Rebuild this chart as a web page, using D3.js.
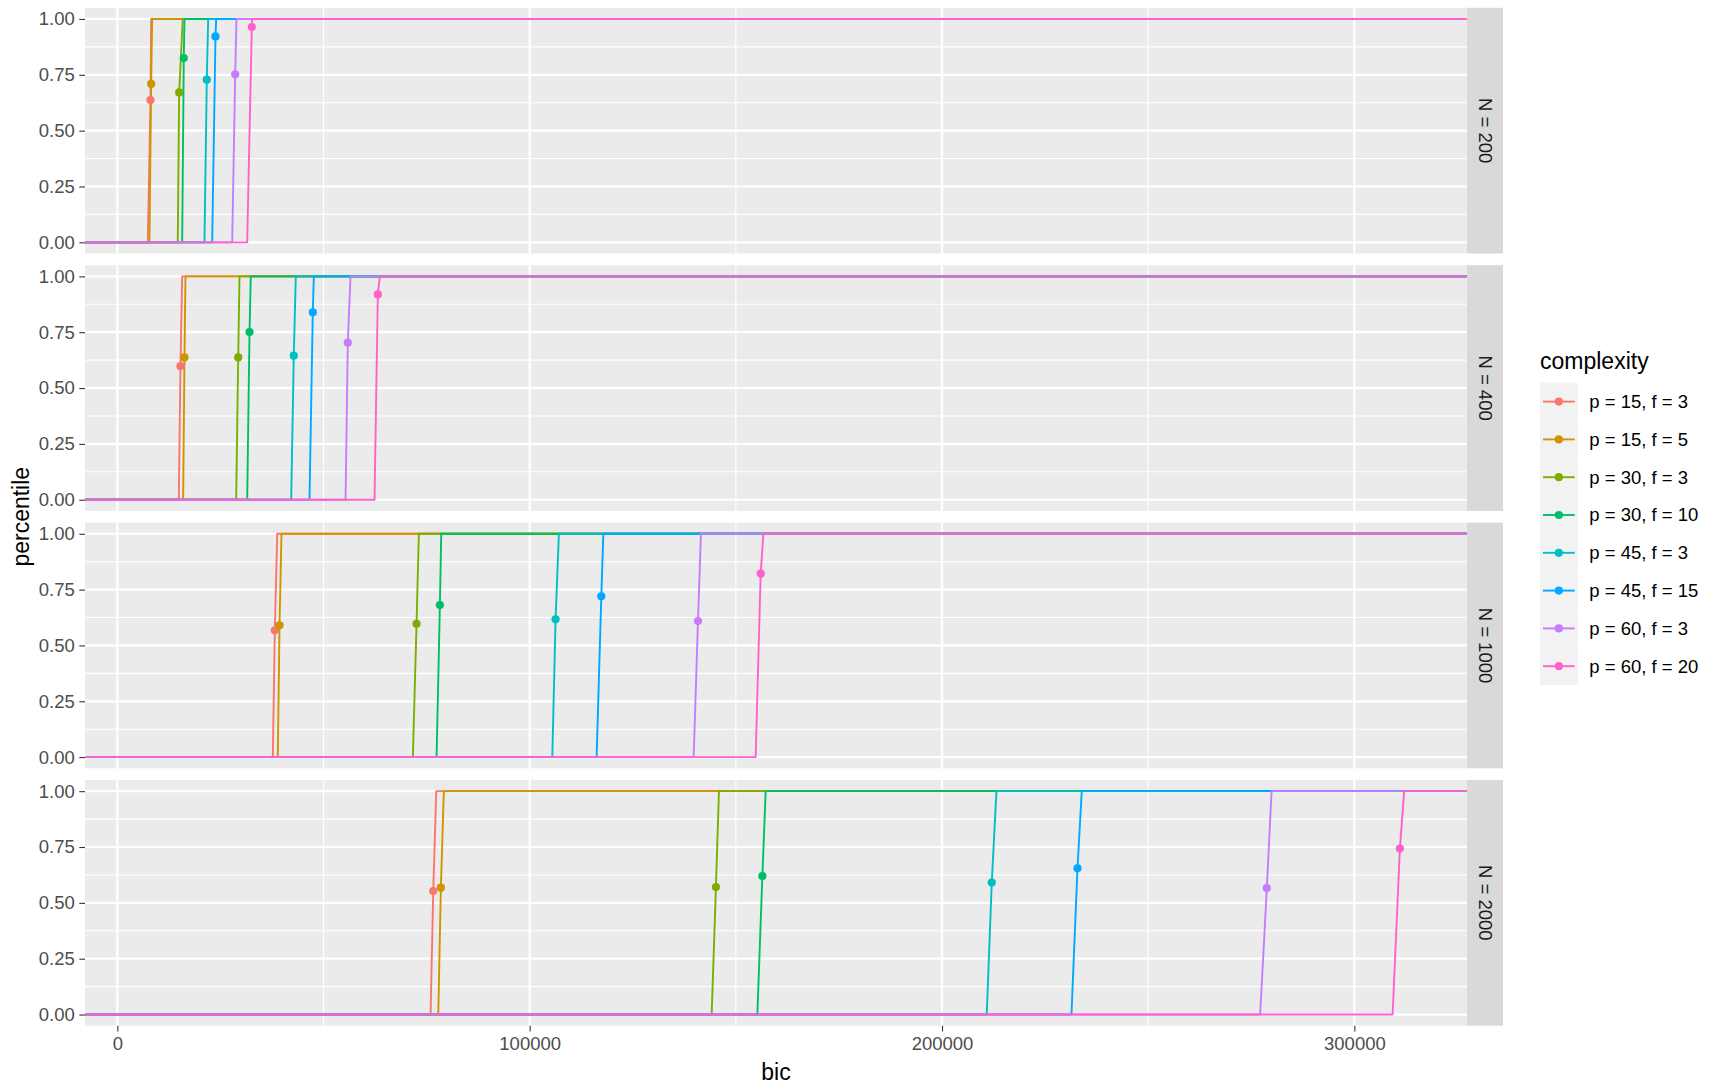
<!DOCTYPE html>
<html>
<head>
<meta charset="utf-8">
<script src="https://cdn.jsdelivr.net/npm/d3@7"></script>
<style>
  html, body { margin: 0; padding: 0; background: #ffffff; }
  svg { display: block; font-family: "Liberation Sans", Arial, sans-serif; }
</style>
</head>
<body>
<svg id="chart" width="1715" height="1087"></svg>
<script>
// Legend entries (model complexity) and their hue colours
const complexities = ["p = 15, f = 3", "p = 15, f = 5", "p = 30, f = 3", "p = 30, f = 10",
                      "p = 45, f = 3", "p = 45, f = 15", "p = 60, f = 3", "p = 60, f = 20"];
const colours = ["#F8766D", "#CD9600", "#7CAE00", "#00BE67", "#00BFC4", "#00A9FF", "#C77CFF", "#FF61CC"];

// Facet rows: sample size
const sampleSizes = [200, 400, 1000, 2000];

// Smallest bic of each empirical distribution (percentile 0), per sample size
const bicMin = [
  [7390, 7790, 14650, 15720, 21130, 23000, 27850, 31490],
  [14900, 15960, 28820, 31490, 42160, 46600, 55340, 62370],
  [37700, 38910, 71670, 77420, 105480, 116230, 139770, 154800],
  [75960, 77830, 144130, 155210, 210850, 231390, 277150, 309270]
];
// Largest bic of each distribution (percentile 1)
const bicMax = [
  [8200, 8440, 15870, 16280, 22030, 23970, 28890, 32660],
  [15720, 16520, 29620, 32360, 43280, 47650, 56550, 63660],
  [38770, 39810, 73120, 78550, 107080, 117860, 141530, 156670],
  [77340, 79180, 145900, 157230, 213200, 233890, 279920, 312080]
];
// Highlighted bic value per distribution and its percentile
const markerBic = [
  [8030, 8200, 14990, 16110, 21690, 23800, 28580, 32610],
  [15310, 16280, 29310, 32050, 42790, 47400, 55890, 63170],
  [38190, 39330, 72560, 78220, 106280, 117370, 140810, 156020],
  [76610, 78460, 145170, 156430, 212060, 232850, 278770, 311040]
];
const markerPct = [
  [0.637, 0.709, 0.671, 0.825, 0.728, 0.922, 0.752, 0.964],
  [0.598, 0.637, 0.637, 0.751, 0.645, 0.839, 0.703, 0.919],
  [0.568, 0.590, 0.597, 0.681, 0.617, 0.720, 0.609, 0.822],
  [0.553, 0.568, 0.571, 0.620, 0.591, 0.655, 0.566, 0.743]
];

// Axis ticks
const xTicks = [0, 100000, 200000, 300000];
const xMinorTicks = [50000, 150000, 250000];
const yTicks = [0, 0.25, 0.5, 0.75, 1];
const yTickLabels = ["0.00", "0.25", "0.50", "0.75", "1.00"];
const yMinorTicks = [0.125, 0.375, 0.625, 0.875];

// ---- layout ----
const panelLeft = 85, panelRight = 1467;
const panelTop0 = 7.8, panelH = 245.7, panelGap = 11.7;
const stripW = 36;
const axisTextSize = 18.5, titleSize = 23;
const pointR = 4.1;

const svg = d3.select("#chart");

// x extent from the data with 5% padding each side
const allMin = d3.min(bicMin.flat()), allMax = d3.max(bicMax.flat());
const pad = (allMax - allMin) * 0.05;
const x = d3.scaleLinear().domain([allMin - pad, allMax + pad]).range([panelLeft, panelRight]);

sampleSizes.forEach((n, row) => {
  const top = panelTop0 + row * (panelH + panelGap);
  const y = d3.scaleLinear().domain([-0.05, 1.05]).range([top + panelH, top]);
  const g = svg.append("g");

  // panel background
  g.append("rect").attr("x", panelLeft).attr("y", top)
    .attr("width", panelRight - panelLeft).attr("height", panelH).attr("fill", "#EBEBEB");

  // minor grid
  g.selectAll(".ymin").data(yMinorTicks).join("line")
    .attr("x1", panelLeft).attr("x2", panelRight)
    .attr("y1", d => y(d)).attr("y2", d => y(d))
    .attr("stroke", "#ffffff").attr("stroke-width", 1.1);
  g.selectAll(".xmin").data(xMinorTicks).join("line")
    .attr("x1", d => x(d)).attr("x2", d => x(d))
    .attr("y1", top).attr("y2", top + panelH)
    .attr("stroke", "#ffffff").attr("stroke-width", 1.1);
  // major grid
  g.selectAll(".ymaj").data(yTicks).join("line")
    .attr("x1", panelLeft).attr("x2", panelRight)
    .attr("y1", d => y(d)).attr("y2", d => y(d))
    .attr("stroke", "#ffffff").attr("stroke-width", 2.2);
  g.selectAll(".xmaj").data(xTicks).join("line")
    .attr("x1", d => x(d)).attr("x2", d => x(d))
    .attr("y1", top).attr("y2", top + panelH)
    .attr("stroke", "#ffffff").attr("stroke-width", 2.2);

  // y axis
  const yAxis = d3.axisLeft(y).tickValues(yTicks)
    .tickFormat((d, i) => yTickLabels[i]).tickSize(5.7).tickPadding(4.5);
  const ya = g.append("g").attr("transform", `translate(${panelLeft},0)`).call(yAxis);
  ya.select(".domain").remove();
  ya.selectAll("line").attr("stroke", "#333333").attr("stroke-width", 1.1);
  ya.selectAll("text").attr("fill", "#4D4D4D").style("font-size", axisTextSize + "px")
    .style("font-family", '"Liberation Sans", Arial, sans-serif');

  // ECDF lines (padded to the panel edges)
  const clipId = "clip" + row;
  g.append("clipPath").attr("id", clipId).append("rect")
    .attr("x", panelLeft).attr("y", top).attr("width", panelRight - panelLeft).attr("height", panelH);
  const line = d3.line().x(d => d[0]).y(d => y(d[1]));
  const lines = g.append("g").attr("clip-path", `url(#${clipId})`);
  complexities.forEach((c, k) => {
    const pts = [
      [panelLeft, 0],
      [x(bicMin[row][k]), 0],
      [x(markerBic[row][k]), markerPct[row][k]],
      [x(bicMax[row][k]), 1],
      [panelRight, 1]
    ];
    lines.append("path").attr("d", line(pts))
      .attr("fill", "none").attr("stroke", colours[k]).attr("stroke-width", 1.9)
      .attr("stroke-linejoin", "round");
  });
  // markers
  complexities.forEach((c, k) => {
    lines.append("circle")
      .attr("cx", x(markerBic[row][k])).attr("cy", y(markerPct[row][k]))
      .attr("r", pointR).attr("fill", colours[k]);
  });

  // strip
  g.append("rect").attr("x", panelRight).attr("y", top)
    .attr("width", stripW).attr("height", panelH).attr("fill", "#D9D9D9");
  g.append("text")
    .attr("transform", `translate(${panelRight + stripW / 2},${top + panelH / 2}) rotate(90)`)
    .attr("text-anchor", "middle").attr("dy", "0.35em")
    .attr("fill", "#1A1A1A").style("font-size", axisTextSize + "px")
    .text(`N = ${n}`);

  // x axis under the last panel
  if (row === sampleSizes.length - 1) {
    const xAxis = d3.axisBottom(x).tickValues(xTicks).tickFormat(d3.format("d"))
      .tickSize(5.7).tickPadding(5);
    const xa = g.append("g").attr("transform", `translate(0,${top + panelH})`).call(xAxis);
    xa.select(".domain").remove();
    xa.selectAll("line").attr("stroke", "#333333").attr("stroke-width", 1.1);
    xa.selectAll("text").attr("fill", "#4D4D4D").style("font-size", axisTextSize + "px")
      .style("font-family", '"Liberation Sans", Arial, sans-serif');
  }
});

// axis titles
const panelsBottom = panelTop0 + 4 * panelH + 3 * panelGap;
svg.append("text").attr("x", (panelLeft + panelRight) / 2).attr("y", 1079.5)
  .attr("text-anchor", "middle").attr("fill", "#000").style("font-size", titleSize + "px")
  .text("bic");
svg.append("text")
  .attr("transform", `translate(29,${(panelTop0 + panelsBottom) / 2}) rotate(-90)`)
  .attr("text-anchor", "middle").attr("fill", "#000").style("font-size", titleSize + "px")
  .text("percentile");

// legend
const legX = 1540, keyTop = 382.7, keyW = 37.7, keyH = 37.8;
const legend = svg.append("g");
legend.append("text").attr("x", legX).attr("y", 369).attr("fill", "#000")
  .style("font-size", titleSize + "px").text("complexity");
complexities.forEach((c, k) => {
  const ky = keyTop + k * keyH;
  legend.append("rect").attr("x", legX).attr("y", ky).attr("width", keyW).attr("height", keyH)
    .attr("fill", "#F2F2F2");
  legend.append("line").attr("x1", legX + 3).attr("x2", legX + keyW - 3)
    .attr("y1", ky + keyH / 2).attr("y2", ky + keyH / 2)
    .attr("stroke", colours[k]).attr("stroke-width", 1.9);
  legend.append("circle").attr("cx", legX + keyW / 2).attr("cy", ky + keyH / 2)
    .attr("r", pointR).attr("fill", colours[k]);
  legend.append("text").attr("x", 1589.3).attr("y", ky + keyH / 2).attr("dy", "0.35em")
    .attr("fill", "#000").style("font-size", axisTextSize + "px").text(c);
});
</script>
</body>
</html>
